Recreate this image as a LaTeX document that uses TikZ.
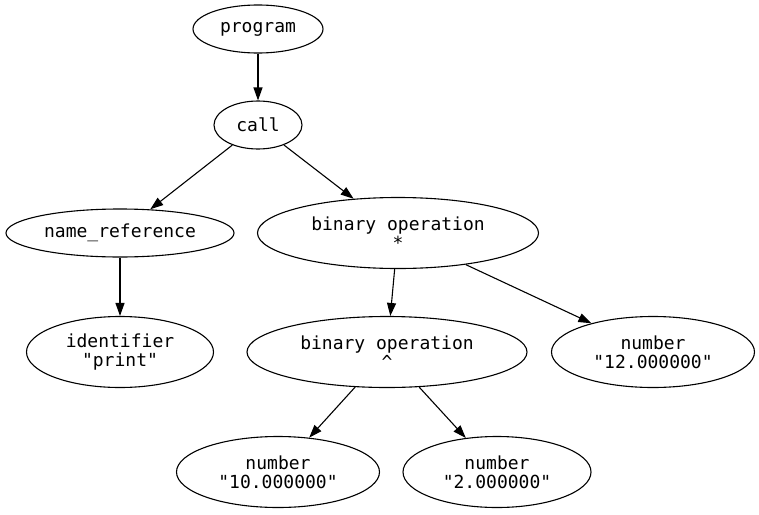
\documentclass[tikz,border=0pt]{standalone}
\usepackage{fontspec}
\setmonofont{DejaVu Sans Mono}
\usetikzlibrary{arrows.meta,shapes.geometric}
\tikzset{
  font=\ttfamily\fontsize{18}{19}\selectfont,
  arrow/.style={-{Triangle[length=13pt,width=9pt]},draw=black,line width=1.1pt},
  leaf/.style={ellipse,draw=black,line width=1.1pt,inner sep=0pt,
    minimum height=48pt,align=center},
  pair/.style={leaf,minimum height=71pt},
}

\begin{document}
\begin{tikzpicture}[x=1pt,y=-1pt]

\useasboundingbox (0,0) rectangle (759,514);

\node[leaf,minimum width=130pt] (prog) at (258,29) {program};
\node[leaf,minimum width=88pt] (call) at (258,125) {call};

\node[leaf,minimum width=228pt] (nameref) at (120,233) {name\_reference};
\node[pair,minimum width=281pt] (binmul) at (398,233) {binary operation\\*};

\node[pair,minimum width=187pt] (ident) at (120,352) {identifier\\"print"};
\node[pair,minimum width=280pt] (binpow) at (387,352) {binary operation\\\textasciicircum};
\node[pair,minimum width=203pt] (num12) at (653,352) {number\\"12.000000"};

\node[pair,minimum width=203pt] (num10) at (278,472) {number\\"10.000000"};
\node[pair,minimum width=188pt] (num2) at (497,472) {number\\"2.000000"};

\draw[arrow] (prog) -- (call);
\draw[arrow] (call) -- (nameref);
\draw[arrow] (call) -- (binmul);
\draw[arrow] (nameref) -- (ident);
\draw[arrow] (binmul) -- (binpow);
\draw[arrow] (binmul) -- (num12);
\draw[arrow] (binpow) -- (num10);
\draw[arrow] (binpow) -- (num2);

\end{tikzpicture}
\end{document}
